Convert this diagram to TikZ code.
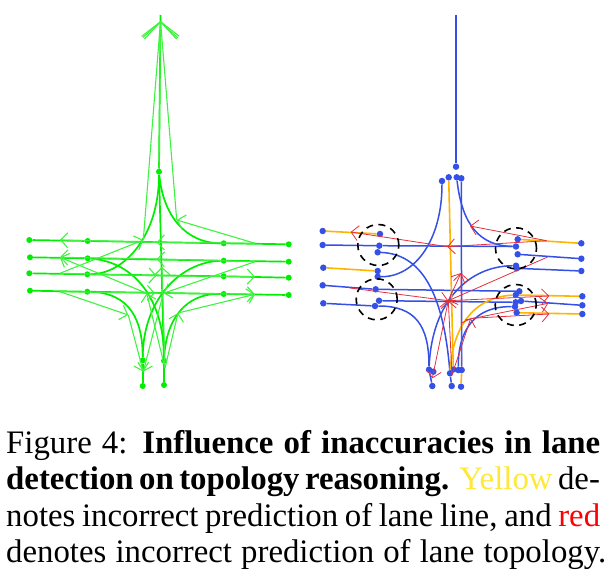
\documentclass[tikz,border=0pt]{standalone}
\usepackage{fontspec}
\setmainfont{Liberation Serif}
\usepackage{xcolor}
\usetikzlibrary{arrows.meta,calc,positioning}
\definecolor{laneGreen}{HTML}{00EE00}
\definecolor{laneBlue}{HTML}{3450E6}
\definecolor{laneYellow}{HTML}{FFB400}
\definecolor{topoRed}{HTML}{E2303C}
\definecolor{capYellow}{HTML}{FFE838}
\begin{document}
\begin{tikzpicture}[x=1pt,y=-1pt,
    gpt/.style={circle,fill=laneGreen,inner sep=0pt,minimum size=6pt},
    bpt/.style={circle,fill=laneBlue,inner sep=0pt,minimum size=6.5pt},
    glane/.style={draw=laneGreen,line width=1.7pt},
    gtopo/.style={draw=laneGreen!75,line width=1.1pt,-{Straight Barb[length=7pt,width=15pt]}},
    gtop/.style={draw=laneGreen!75,line width=1.1pt,-{Straight Barb[length=16pt,width=35pt]}},
    blane/.style={draw=laneBlue,line width=1.5pt},
    ylane/.style={draw=laneYellow,line width=1.6pt},
    rtopo/.style={draw=topoRed,line width=0.8pt,-{Straight Barb[length=7pt,width=15pt]}},
    errmark/.style={draw=black,circle,dashed,dash pattern=on 7pt off 5.5pt,line width=1.6pt,
      minimum size=41pt,inner sep=0pt},
    capline/.style={anchor=base west,inner sep=0pt,font=\fontsize{32.8}{36}\selectfont}]
    \useasboundingbox (0,0) rectangle (615,580);
    % left graph
    \node[gpt] (gl1) at (29.3,240) {};
    \node[gpt] (gl2) at (30,257.3) {};
    \node[gpt] (gl3) at (29.3,273.3) {};
    \node[gpt] (gl4) at (30,290.7) {};
    \node[gpt] (ga1) at (87.7,241) {};
    \node[gpt] (ga2) at (87.7,258.3) {};
    \node[gpt] (ga3) at (87.3,274.3) {};
    \node[gpt] (ga4) at (87.3,291.7) {};
    \node[gpt] (gb1) at (223.7,243.3) {};
    \node[gpt] (gb2) at (223.7,260.7) {};
    \node[gpt] (gb3) at (223.7,276.3) {};
    \node[gpt] (gb4) at (223.7,294) {};
    \node[gpt] (gr1) at (288.7,244.3) {};
    \node[gpt] (gr2) at (288.7,261.7) {};
    \node[gpt] (gr3) at (288.7,277.7) {};
    \node[gpt] (gr4) at (288.7,295) {};
    \node[gpt] (gc) at (159,171.7) {};
    \node[gpt] (gs1) at (142.7,360.3) {};
    \node[gpt] (gs2) at (164,360.7) {};
    \node[gpt] (ge1) at (142.7,386) {};
    \node[gpt] (ge2) at (164,385) {};
    \coordinate (gtip) at (160.5,15);
    \coordinate (gapex) at (160.5,21);
    \coordinate (gm1) at (60,240);
    \coordinate (gm2) at (60,257.3);
    \coordinate (gm3) at (60,273.3);
    \coordinate (gm4) at (60,291.7);
    \coordinate (gn1) at (255,243.3);
    \coordinate (gn2) at (255,261.7);
    \coordinate (gn3) at (255,276.7);
    \coordinate (gn4) at (255,294.3);
    \coordinate (gx1) at (156.7,242.3);
    \coordinate (gx2) at (156.7,259);
    \coordinate (gx3) at (156.7,275.7);
    \coordinate (gx4) at (155,293);
    \coordinate (gd1) at (143.3,240);
    \coordinate (gd2) at (176.7,220);
    \coordinate (gd3) at (128.3,315);
    \coordinate (gd4) at (178,313);
    \coordinate (gd5) at (163.3,293.3);
    \coordinate (gd6) at (146.7,293.3);
    \coordinate (gd7) at (143.3,371.7);
    \coordinate (gd8) at (165,368);
    \coordinate (gd9) at (162,267);
    \draw[glane] (gl1)--(ga1);
    \draw[glane] (ga1)--(gb1);
    \draw[glane] (gb1)--(gr1);
    \draw[glane] (gl2)--(ga2);
    \draw[glane] (ga2)--(gb2);
    \draw[glane] (gb2)--(gr2);
    \draw[glane] (gl3)--(ga3);
    \draw[glane] (ga3)--(gb3);
    \draw[glane] (gb3)--(gr3);
    \draw[glane] (gl4)--(ga4);
    \draw[glane] (ga4)--(gb4);
    \draw[glane] (gb4)--(gr4);
    \draw[glane] (gtip)--(gc);
    \draw[glane] (gc)--(gs2);
    \draw[glane] (gs1)--(ge1);
    \draw[glane] (gs2)--(ge2);
    \draw[glane] (gc) .. controls (159,235) and (125,274) .. (ga3);
    \draw[glane] (gc) .. controls (163,215) and (185,243) .. (gb1);
    \draw[glane] (ga2) .. controls (135,262) and (164,300) .. (gs2);
    \draw[glane] (ga4) .. controls (130,293) and (142.7,320) .. (gs1);
    \draw[glane] (gb2) .. controls (180,262) and (143,300) .. (gs1);
    \draw[glane] (gb4) .. controls (185,293) and (166,320) .. (gs2);
    \draw[gtop] (gd1)--(gapex);
    \draw[gtop] (gd2)--(gapex);
    \draw[gtop] (gc)--(gapex);
    \draw[gtopo] (gn1)--(gx1);
    \draw[gtopo] (gx1)--(gm1);
    \draw[gtopo] (gn2)--(gx2);
    \draw[gtopo] (gx2)--(gm2);
    \draw[gtopo] (gm3)--(gx3);
    \draw[gtopo] (gx3)--(gn3);
    \draw[gtopo] (gm4)--(gx4);
    \draw[gtopo] (gx4)--(gn4);
    \draw[gtopo] (gm3)--(gd1);
    \draw[gtopo] (gm4)--(gd3);
    \draw[gtopo] (gd3)--(gd7);
    \draw[gtopo] (gd4)--(gn4);
    \draw[gtopo] (gd8)--(gd4);
    \draw[gtopo] (gn1)--(gd2);
    \draw[gtopo] (gn2)--(gd5);
    \draw[gtopo] (gd5)--(gd7);
    \draw[gtopo] (gd6)--(gm2);
    \draw[gtopo] (gd8)--(gd6);
    \draw[gtopo] (gd8)--(gd9);
    % right graph
    \node[bpt] (bl1) at (322.7,231) {};
    \node[bpt] (bl2) at (322.7,245) {};
    \node[bpt] (bl3) at (323.3,267.7) {};
    \node[bpt] (bl4) at (322.7,285.3) {};
    \node[bpt] (bl5) at (323.3,303.3) {};
    \node[bpt] (ba1) at (380,234) {};
    \node[bpt] (ba2) at (379.3,245.7) {};
    \node[bpt] (ba3) at (377.7,252.3) {};
    \node[bpt] (ba4) at (377.7,271) {};
    \node[bpt] (ba5) at (377.7,276.7) {};
    \node[bpt] (ba6) at (375.7,289.3) {};
    \node[bpt] (ba7) at (379,300.7) {};
    \node[bpt] (ba8) at (375,306) {};
    \node[bpt] (bt0) at (456,166.7) {};
    \node[bpt] (bt1) at (442,181) {};
    \node[bpt] (bt2) at (448.7,177.3) {};
    \node[bpt] (bt3) at (456.7,177.3) {};
    \node[bpt] (bt4) at (461.3,178.3) {};
    \node[bpt] (bb1) at (517.7,239.3) {};
    \node[bpt] (bb2) at (516,246.5) {};
    \node[bpt] (bb3) at (517.7,254.3) {};
    \node[bpt] (bb4) at (516,265.7) {};
    \node[bpt] (bb5) at (516.7,268.3) {};
    \node[bpt] (bb6) at (519.3,291.3) {};
    \node[bpt] (bb7) at (515.7,295) {};
    \node[bpt] (bb8) at (521,301) {};
    \node[bpt] (bb9) at (515.7,302.3) {};
    \node[bpt] (bb10) at (515,306.7) {};
    \node[bpt] (bb11) at (516.7,312.7) {};
    \node[bpt] (br1) at (581.3,243.3) {};
    \node[bpt] (br2) at (581.3,258.7) {};
    \node[bpt] (br3) at (581.3,271) {};
    \node[bpt] (br4) at (582.3,296.3) {};
    \node[bpt] (br5) at (582.3,305.3) {};
    \node[bpt] (br6) at (582.3,314) {};
    \node[bpt] (bs1) at (429,369.7) {};
    \node[bpt] (bs2) at (433.3,371.7) {};
    \node[bpt] (bs3) at (450,373.3) {};
    \node[bpt] (bs4) at (453.3,369.5) {};
    \node[bpt] (bs5) at (458.3,370) {};
    \node[bpt] (bs6) at (461.7,370) {};
    \node[bpt] (be1) at (432.3,386) {};
    \node[bpt] (be2) at (451.7,386) {};
    \node[bpt] (be3) at (461,386.7) {};
    \coordinate (btip) at (456,15);
    \draw[blane] (btip)--(bt0);
    \draw[ylane] (bl1)--(ba1);
    \draw[blane] (bl2)--(ba2);
    \draw[ylane] (bl3)--(ba4);
    \draw[blane] (bl4)--(ba6);
    \draw[blane] (bl5)--(ba8);
    \draw[blane] (ba2)--(bb2);
    \draw[blane] (ba6)--(bb6);
    \draw[blane] (ba7)--(bb9);
    \draw[ylane] (bb1)--(br1);
    \draw[blane] (bb3)--(br2);
    \draw[blane] (bb5)--(br3);
    \draw[ylane] (bb7)--(br4);
    \draw[blane] (bb8)--(br5);
    \draw[ylane] (bb11)--(br6);
    \draw[blane] (bt1) .. controls (442,240) and (415,277) .. (ba5);
    \draw[blane] (ba3) .. controls (420,254) and (443,290) .. (bs3);
    \draw[blane] (bb2) .. controls (480,246) and (462,225) .. (bt3);
    \draw[blane] (ba8) .. controls (415,306) and (429,325) .. (bs1);
    \draw[blane] (bs1) .. controls (432,300) and (470,266) .. (bb4);
    \draw[blane] (bb10) .. controls (475,306) and (458,330) .. (bs5);
    \draw[blane] (bt4)--(bs6);
    \draw[blane] (bs1)--(be1);
    \draw[blane] (bs3)--(be2);
    \draw[ylane] (bt2)--(bs4);
    \draw[ylane] (bb7) .. controls (475,297) and (453,325) .. (bs3);
    \draw[ylane] (bs6)--(be3);
    \coordinate (ra1) at (350.7,232);
    \coordinate (ra2) at (447.3,246.7);
    \coordinate (ra3) at (546.7,240.7);
    \coordinate (ra4) at (470,226);
    \coordinate (ra5) at (548.3,256.7);
    \coordinate (ra6) at (448.3,300.7);
    \coordinate (ra7) at (350,288);
    \coordinate (ra8) at (549.3,296);
    \coordinate (ra9) at (465,320);
    \coordinate (ra10) at (548.3,303.3);
    \coordinate (ra11) at (470.7,318.3);
    \coordinate (ra12) at (549.3,314);
    \coordinate (ra13) at (461,273);
    \coordinate (ra14) at (432.3,378.3);
    \coordinate (ra15) at (452,375);
    \draw[rtopo] (ra2)--(ra1);
    \draw[rtopo] (ra3)--(ra2);
    \draw[rtopo] (ra3)--(ra4);
    \draw[rtopo] (ra5)--(ra6);
    \draw[rtopo] (ra7)--(ra6);
    \draw[rtopo] (ra6)--(ra8);
    \draw[rtopo] (ra9)--(ra10);
    \draw[rtopo] (ra11)--(ra12);
    \draw[rtopo] (ra15)--(ra11);
    \draw[rtopo] (ra6)--(ra13);
    \draw[rtopo] (bs6)--(ra13);
    \draw[rtopo] (ra6)--(ra14);
    \draw[rtopo] (ra15)--(ra6);
    \node[errmark] (err1) at (378.3,245) {};
    \node[errmark] (err2) at (516,248.3) {};
    \node[errmark] (err3) at (376.7,299.3) {};
    \node[errmark] (err4) at (515.7,305) {};
    % caption
    \node[capline] (cap1) at (6,453) {\makebox[594pt][s]{Figure 4: \textbf{Influence of inaccuracies in lane}}};
    \node[capline] (cap2) at (6,489) {\makebox[590pt][s]{\textbf{detection on topology reasoning.} \textcolor{capYellow}{Yellow} de-}};
    \node[capline] (cap3) at (6,526) {\makebox[594pt][s]{notes incorrect prediction of lane line, and \textcolor{red}{red}}};
    \node[capline] (cap4) at (6,562) {\makebox[600pt][s]{denotes incorrect prediction of lane topology.}};
  \end{tikzpicture}
\end{document}
